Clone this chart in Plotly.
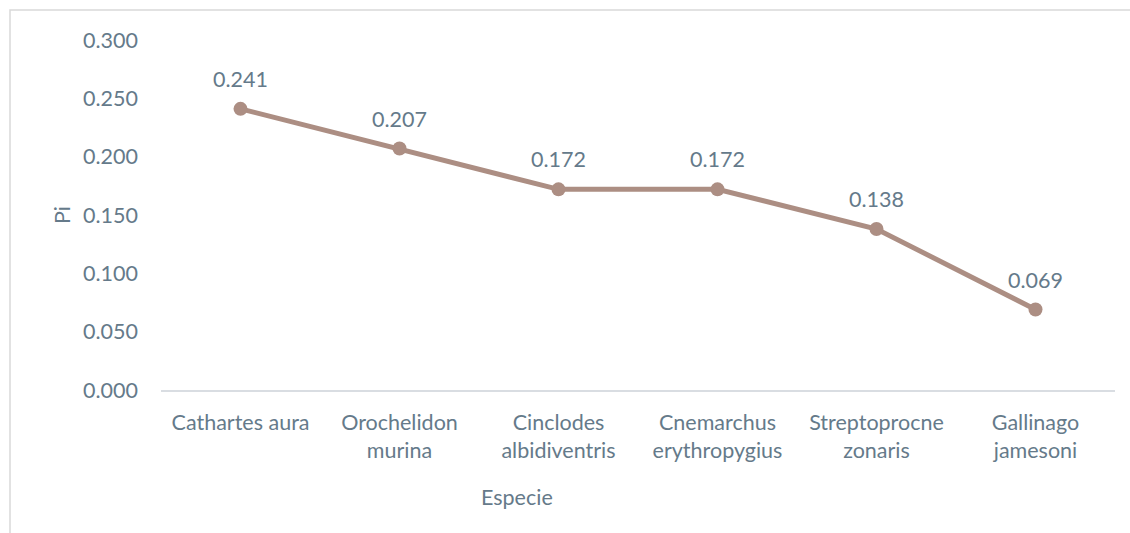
import plotly.graph_objects as go

# Species and their relative abundance (Pi)
especies = [
    "Cathartes aura",
    "Orochelidon<br>murina",
    "Cinclodes<br>albidiventris",
    "Cnemarchus<br>erythropygius",
    "Streptoprocne<br>zonaris",
    "Gallinago<br>jamesoni",
]
pi_values = [0.241, 0.207, 0.172, 0.172, 0.138, 0.069]
y_ticks = [0.0, 0.05, 0.10, 0.15, 0.20, 0.25, 0.30]

TEXT_COLOR = "#657A8A"
LINE_COLOR = "#AC8E83"
AXIS_COLOR = "#D9DDE2"
FONT = "Lato, Open Sans, sans-serif"
FS = 21.5

W, H = 1130, 533
L, R, T, B = 161, 15, 40, 143

xs = list(range(len(especies)))

fig = go.Figure()
fig.add_trace(go.Scatter(
    x=xs,
    y=pi_values,
    mode="lines+markers",
    line=dict(color=LINE_COLOR, width=5),
    marker=dict(color=LINE_COLOR, size=14),
    showlegend=False,
    hoverinfo="skip",
))

# value labels above each point
for x, v in zip(xs, pi_values):
    fig.add_annotation(
        x=x, y=v, text=f"{v:.3f}", showarrow=False,
        yshift=30, font=dict(family=FONT, size=FS, color=TEXT_COLOR),
    )

pw, ph = W - L - R, H - T - B

# axis titles
fig.add_annotation(
    xref="paper", yref="paper",
    x=(517 - L) / pw, y=-(497 - (H - B)) / ph,
    xanchor="center", yanchor="middle",
    text="Especie", showarrow=False,
    font=dict(family=FONT, size=FS, color=TEXT_COLOR),
)
fig.add_annotation(
    xref="paper", yref="paper",
    x=(62 - L) / pw, y=0.5,
    xanchor="center", yanchor="middle",
    text="Pi", showarrow=False, textangle=-90,
    font=dict(family=FONT, size=FS, color=TEXT_COLOR),
)

# chart frame
fig.add_shape(
    type="rect", xref="paper", yref="paper",
    x0=(10 - L) / pw, x1=(W + 20 - L) / pw,
    y0=-(H + 20 - (H - B)) / ph, y1=((H - B) - 10) / ph,
    line=dict(color="#D9D9D9", width=1.5), fillcolor="rgba(0,0,0,0)",
    layer="below",
)

fig.update_xaxes(
    range=[-0.5, len(especies) - 0.5],
    tickmode="array", tickvals=xs, ticktext=especies,
    showgrid=False, zeroline=False,
    showline=True, linecolor=AXIS_COLOR, linewidth=1.5,
    ticks="", ticklabelstandoff=12,
    tickfont=dict(family=FONT, size=FS, color=TEXT_COLOR),
)
fig.update_yaxes(
    range=[0, 0.30],
    tickmode="array", tickvals=y_ticks,
    ticktext=[f"{v:.3f}" for v in y_ticks],
    showgrid=False, zeroline=False, showline=False,
    ticks="", ticklabelstandoff=22,
    tickfont=dict(family=FONT, size=FS, color=TEXT_COLOR),
)

fig.update_layout(
    width=W, height=H,
    margin=dict(l=L, r=R, t=T, b=B),
    paper_bgcolor="white", plot_bgcolor="white",
)

fig.write_html("out.html")
